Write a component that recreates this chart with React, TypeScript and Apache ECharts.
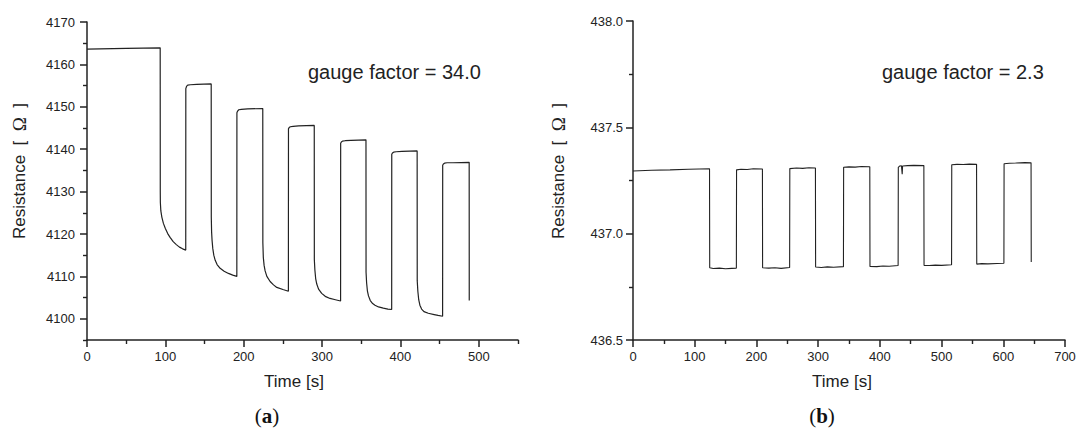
import React, { useEffect, useRef } from "react";
import * as echarts from "echarts";

// ---- Data: panel (a) ----
const timeA = [
  0, 50, 93.4,
  93.5, 93.6, 94.2, 95.5, 97.5, 100, 103, 106, 110, 114, 118, 122, 126,
  126.1, 127, 128.5, 132, 140, 158.5,
  158.6, 159.0, 159.6, 160.5, 161.8, 163.6, 166, 169.9, 175, 180.5, 186, 191.2,
  191.3, 192.2, 193.7, 197, 205, 224.3,
  224.4, 225, 226, 227.3, 229.5, 233.7, 238, 242.2, 250, 257,
  257.1, 258, 259.5, 263, 270, 290,
  290.1, 290.8, 291.8, 293.2, 295.5, 299.5, 304, 310.1, 317, 323.6,
  323.7, 324.6, 326, 329.5, 337, 356,
  356.1, 356.8, 357.8, 359.2, 361.5, 364.5, 367.5, 372, 378.1, 384, 388.8,
  388.9, 389.8, 391.3, 394.5, 402, 421.3,
  421.4, 422.2, 423.3, 424.8, 427, 430, 435.5, 443, 448, 453.8,
  453.9, 454.8, 456.3, 459.5, 467, 487.7,
  487.8,
];
const resistanceA = [
  4163.6, 4163.8, 4163.9,
  4130.0, 4127.5, 4125.5, 4124.0, 4122.5, 4121.3, 4120.1, 4119.2, 4118.2, 4117.5, 4116.9, 4116.5, 4116.2,
  4154.3, 4154.8, 4155.1, 4155.2, 4155.3, 4155.4,
  4124.0, 4120.5, 4118.5, 4116.6, 4115.0, 4113.8, 4112.8, 4111.9, 4111.2, 4110.7, 4110.3, 4110.0,
  4148.6, 4149.0, 4149.3, 4149.4, 4149.5, 4149.6,
  4118.0, 4114.5, 4112.6, 4111.3, 4110.0, 4108.8, 4108.0, 4107.4, 4106.9, 4106.5,
  4144.8, 4145.1, 4145.3, 4145.4, 4145.5, 4145.6,
  4114.0, 4111.5, 4109.5, 4108.2, 4107.0, 4106.0, 4105.3, 4104.8, 4104.5, 4104.2,
  4141.4, 4141.7, 4141.9, 4142.0, 4142.1, 4142.2,
  4111.0, 4108.5, 4106.6, 4105.4, 4104.3, 4103.6, 4103.2, 4102.8, 4102.5, 4102.3, 4102.2,
  4138.8, 4139.1, 4139.3, 4139.4, 4139.5, 4139.6,
  4109.0, 4106.5, 4104.5, 4103.2, 4102.3, 4101.7, 4101.3, 4101.0, 4100.8, 4100.6,
  4136.2, 4136.5, 4136.7, 4136.8, 4136.8, 4136.9,
  4104.3,
];

// ---- Data: panel (b) ----
const timeB = [
  0, 30, 60, 90, 124,
  124.3, 130, 140, 150, 160, 167.5,
  167.8, 175, 185, 195, 209.7,
  210, 220, 230, 240, 253.8,
  254.1, 265, 275, 285, 295.6,
  295.9, 305, 315, 325, 341,
  341.3, 350, 360, 370, 383.7,
  384, 395, 405, 415, 429.6,
  429.9, 432, 435, 436.2, 436.8, 445, 455, 471.3,
  471.6, 480, 490, 500, 516.2,
  516.5, 525, 535, 545, 556.7,
  557, 565, 575, 590, 601,
  601.3, 610, 620, 635, 645,
  645.3,
];
const resistanceB = [
  437.295, 437.298, 437.3, 437.303, 437.305,
  436.84, 436.836, 436.838, 436.835, 436.837, 436.838,
  437.3, 437.303, 437.302, 437.305, 437.304,
  436.84, 436.838, 436.84, 436.837, 436.841,
  437.306, 437.309, 437.307, 437.31, 437.309,
  436.843, 436.841, 436.844, 436.842, 436.845,
  437.312, 437.314, 437.313, 437.316, 437.315,
  436.846, 436.845, 436.848, 436.847, 436.85,
  437.312, 437.318, 437.319, 437.28, 437.318, 437.32, 437.321, 437.32,
  436.851, 436.85, 436.852, 436.851, 436.854,
  437.324, 437.326, 437.325, 437.327, 437.326,
  436.857, 436.859, 436.858, 436.86, 436.861,
  437.329, 437.331, 437.332, 437.334, 437.333,
  436.867,
];

// ---- Tick values ----
const xMajorA = [0, 100, 200, 300, 400, 500];
const xMinorA = [50, 150, 250, 350, 450, 550];
const yMajorA = [4100, 4110, 4120, 4130, 4140, 4150, 4160, 4170];
const yMinorA = [4095, 4105, 4115, 4125, 4135, 4145, 4155, 4165];
const xMinorB = [50, 150, 250, 350, 450, 550, 650];
const yMinorB = [436.75, 437.25, 437.75];

const gaugeA = "gauge factor = 34.0";
const gaugeB = "gauge factor = 2.3";

const FONT = "'Liberation Sans', Arial, sans-serif";
const AXIS_COLOR = "#222";
const TEXT_COLOR = "#222";

function majorAxis(extra: any) {
  return {
    type: "value",
    splitLine: { show: false },
    axisLine: { show: true, onZero: false, lineStyle: { color: AXIS_COLOR, width: 1.5 } },
    axisTick: { show: true, length: 7, lineStyle: { color: AXIS_COLOR, width: 1.5 } },
    axisLabel: { fontSize: 13, color: TEXT_COLOR, fontFamily: FONT },
    ...extra,
  };
}

function minorAxis(extra: any, vals: number[]) {
  return {
    type: "value",
    splitLine: { show: false },
    axisLine: { show: false },
    axisTick: { show: true, length: 4, customValues: vals, lineStyle: { color: AXIS_COLOR, width: 1.4 } },
    axisLabel: { show: false },
    ...extra,
  };
}

export default function App() {
  const ref = useRef<HTMLDivElement>(null);

  useEffect(() => {
    if (!ref.current) return;
    const chart = echarts.init(ref.current, null, { renderer: "svg" });
    const dataA = timeA.map((t, i) => [t, resistanceA[i]]);
    const dataB = timeB.map((t, i) => [t, resistanceB[i]]);

    const titleStyle = { fontSize: 17, fill: TEXT_COLOR, fontFamily: FONT };
    const resText = (x: number) => ({
      type: "text",
      x,
      y: 171,
      rotation: Math.PI / 2,
      style: {
        text: "Resistance  [  {o|Ω}  ]",
        ...titleStyle,
        align: "center",
        verticalAlign: "middle",
        rich: { o: { fontSize: 19, fontFamily: "'Liberation Serif', serif", fill: TEXT_COLOR } },
      },
    });
    const panelText = (x: number, letter: string) => ({
      type: "text",
      x,
      y: 416,
      style: {
        text: "({b|" + letter + "})",
        fontSize: 21,
        fontFamily: "'Liberation Serif', serif",
        fill: "#111",
        align: "center",
        verticalAlign: "middle",
        rich: { b: { fontSize: 21, fontWeight: "bold", fontFamily: "'Liberation Serif', serif", fill: "#111" } },
      },
    });

    chart.setOption({
      animation: false,
      backgroundColor: "#fff",
      grid: [
        { left: 87, top: 22, width: 431, height: 318 },
        { left: 633, top: 21, width: 432, height: 319 },
      ],
      xAxis: [
        majorAxis({
          gridIndex: 0, min: 0, max: 550, position: "bottom",
          axisTick: { show: true, length: 7, customValues: xMajorA, lineStyle: { color: AXIS_COLOR, width: 1.5 } },
          axisLabel: { customValues: xMajorA, fontSize: 13, color: TEXT_COLOR, fontFamily: FONT, margin: 10 },
        }),
        minorAxis({ gridIndex: 0, min: 0, max: 550, position: "bottom" }, xMinorA),
        majorAxis({
          gridIndex: 1, min: 0, max: 700, interval: 100, position: "bottom",
          axisLabel: { fontSize: 13, color: TEXT_COLOR, fontFamily: FONT, margin: 10 },
        }),
        minorAxis({ gridIndex: 1, min: 0, max: 700, position: "bottom" }, xMinorB),
      ],
      yAxis: [
        majorAxis({
          gridIndex: 0, min: 4095, max: 4170, position: "left",
          axisTick: { show: true, length: 7, customValues: yMajorA, lineStyle: { color: AXIS_COLOR, width: 1.5 } },
          axisLabel: {
            customValues: yMajorA, fontSize: 13, color: TEXT_COLOR, fontFamily: FONT, margin: 12,
            formatter: (v: number) => String(v),
          },
        }),
        minorAxis({ gridIndex: 0, min: 4095, max: 4170, position: "left" }, yMinorA),
        majorAxis({
          gridIndex: 1, min: 436.5, max: 438, interval: 0.5, position: "left",
          axisLabel: {
            fontSize: 13, color: TEXT_COLOR, fontFamily: FONT, margin: 10,
            formatter: (v: number) => v.toFixed(1),
          },
        }),
        minorAxis({ gridIndex: 1, min: 436.5, max: 438, position: "left" }, yMinorB),
      ],
      series: [
        {
          type: "line", xAxisIndex: 0, yAxisIndex: 0, data: dataA,
          showSymbol: false, symbol: "none",
          lineStyle: { color: "#222", width: 1.2 },
        },
        {
          type: "line", xAxisIndex: 2, yAxisIndex: 2, data: dataB,
          showSymbol: false, symbol: "none",
          lineStyle: { color: "#222", width: 1.1 },
        },
      ],
      graphic: [
        { type: "text", x: 308, y: 72, style: { text: gaugeA, fontSize: 20, fill: TEXT_COLOR, fontFamily: FONT, verticalAlign: "middle" } },
        { type: "text", x: 882, y: 72, style: { text: gaugeB, fontSize: 20, fill: TEXT_COLOR, fontFamily: FONT, verticalAlign: "middle" } },
        { type: "text", x: 294, y: 381, style: { text: "Time [s]", ...titleStyle, align: "center", verticalAlign: "middle" } },
        { type: "text", x: 842, y: 381, style: { text: "Time [s]", ...titleStyle, align: "center", verticalAlign: "middle" } },
        resText(19),
        resText(558),
        panelText(267, "a"),
        panelText(822, "b"),
      ],
    });
    return () => chart.dispose();
  }, []);

  return (
    <div
      ref={ref}
      style={{ position: "fixed", left: 0, top: 0, width: 1079, height: 433, background: "#fff" }}
    />
  );
}
